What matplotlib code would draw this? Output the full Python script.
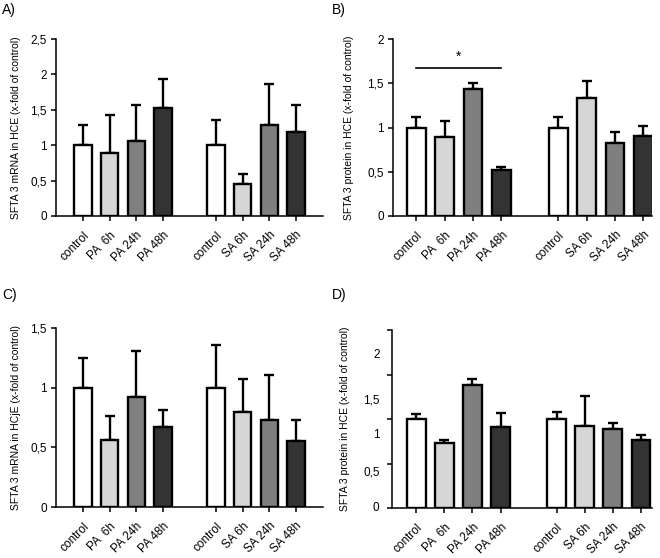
import numpy as np
import matplotlib
matplotlib.use("Agg")
import matplotlib.pyplot as plt
from matplotlib.ticker import FuncFormatter

plt.rcParams['font.family'] = ['Liberation Sans', 'DejaVu Sans']

# data
categories_pa = ["control", "PA  6h", "PA 24h", "PA 48h"]
categories_sa = ["control", "SA 6h", "SA 24h", "SA 48h"]
tick_labels = categories_pa + categories_sa
positions = [0, 1, 2, 3, 5, 6, 7, 8]

a_mean = [1.0, 0.895, 1.06, 1.53, 1.0, 0.45, 1.29, 1.19]
a_err = [0.28, 0.535, 0.51, 0.41, 0.36, 0.14, 0.57, 0.38]

b_mean = [1.0, 0.89, 1.43, 0.52, 1.0, 1.33, 0.83, 0.90]
b_err = [0.12, 0.18, 0.07, 0.03, 0.12, 0.20, 0.12, 0.12]

c_mean = [1.0, 0.565, 0.92, 0.673, 1.0, 0.80, 0.73, 0.553]
c_err = [0.25, 0.20, 0.39, 0.14, 0.355, 0.275, 0.376, 0.18]

d_mean = [1.0, 0.73, 1.38, 0.91, 1.0, 0.925, 0.89, 0.76]
d_err = [0.06, 0.03, 0.07, 0.16, 0.08, 0.335, 0.06, 0.06]

# label positions in panel D (as printed in the original figure)
d_label_pos = [0, 0.40, 0.82, 1.21, 1.72]
d_label_txt = ["0", "0,5", "1", "1,5", "2"]

colors = ["#ffffff", "#d6d6d6", "#7f7f7f", "#333333"] * 2

W, H = 660, 558
fig = plt.figure(figsize=(W / 100, H / 100), dpi=100)


def px_axes(left, top, right, bottom):
    return fig.add_axes([left / W, 1 - bottom / H, (right - left) / W, (bottom - top) / H])


def comma(v, pos):
    return ("%g" % v).replace(".", ",")


def panel(ax, mean, err, ymax, xlim, ylabel, ylabel_x):
    ax.bar(positions, mean, width=0.66, color=colors, edgecolor="black",
           linewidth=1.7, zorder=3)
    ax.errorbar(positions, mean, yerr=[np.zeros(len(err)), err], fmt="none",
                ecolor="black", elinewidth=1.7, capsize=3.3, capthick=1.7, zorder=2)
    ax.set_ylim(0, ymax)
    ax.set_xlim(*xlim)
    for s in ["top", "right"]:
        ax.spines[s].set_visible(False)
    for s in ["left", "bottom"]:
        ax.spines[s].set_linewidth(1.1)
    ax.set_xticks(positions)
    ax.set_xticklabels(tick_labels, rotation=45, ha="right", rotation_mode="anchor",
                       fontsize=8.5)
    ax.tick_params(direction="out", length=3.5, width=1.1, labelsize=8.5, pad=3)
    ax.tick_params(axis="x", pad=6)
    ax.yaxis.set_major_formatter(FuncFormatter(comma))
    bb = ax.get_position()
    fig.text(ylabel_x / W, bb.y0 + bb.height / 2, ylabel, rotation=90,
             ha="center", va="center", fontsize=7.5)


axA = px_axes(56, 39, 323, 216)
panel(axA, a_mean, a_err, 2.5, (-1.02, 9.02), "SFTA 3 mRNA in HCE (x-fold of control)", 16)
axA.set_yticks(np.arange(0, 2.51, 0.5))

axB = px_axes(393, 39, 652, 216)
panel(axB, b_mean, b_err, 2.0, (-0.82, 8.3), "SFTA 3 protein in HCE (x-fold of control)", 349)
axB.set_yticks(np.arange(0, 2.01, 0.5))
axB.plot([0, 3], [1.67, 1.67], color="black", linewidth=1.2)
axB.text(1.5, 1.72, "*", ha="center", va="bottom", fontsize=10)

axC = px_axes(56, 328, 323, 507)
panel(axC, c_mean, c_err, 1.5, (-1.02, 9.02), "SFTA 3 mRNA in HCjE (x-fold of control)", 16)
axC.set_yticks(np.arange(0, 1.51, 0.5))

axD = px_axes(392, 330, 652, 508)
panel(axD, d_mean, d_err, 2.0, (-0.87, 8.4), "SFTA 3 protein in HCE (x-fold of control)", 345)
axD.set_yticks(np.arange(0, 2.01, 0.5))
axD.set_yticklabels([])
for pos, txt in zip(d_label_pos, d_label_txt):
    axD.annotate(txt, xy=(0, pos), xycoords=("axes fraction", "data"),
                 xytext=(-9, 0), textcoords="offset points",
                 ha="right", va="center", fontsize=8.5, annotation_clip=False)

for lab, x, y in [("A)", 2, 10), ("B)", 332, 10), ("C)", 2, 295), ("D)", 332, 295)]:
    fig.text(x / W, 1 - y / H, lab, ha="left", va="center", fontsize=10)

fig.savefig("out.png", dpi=100)
